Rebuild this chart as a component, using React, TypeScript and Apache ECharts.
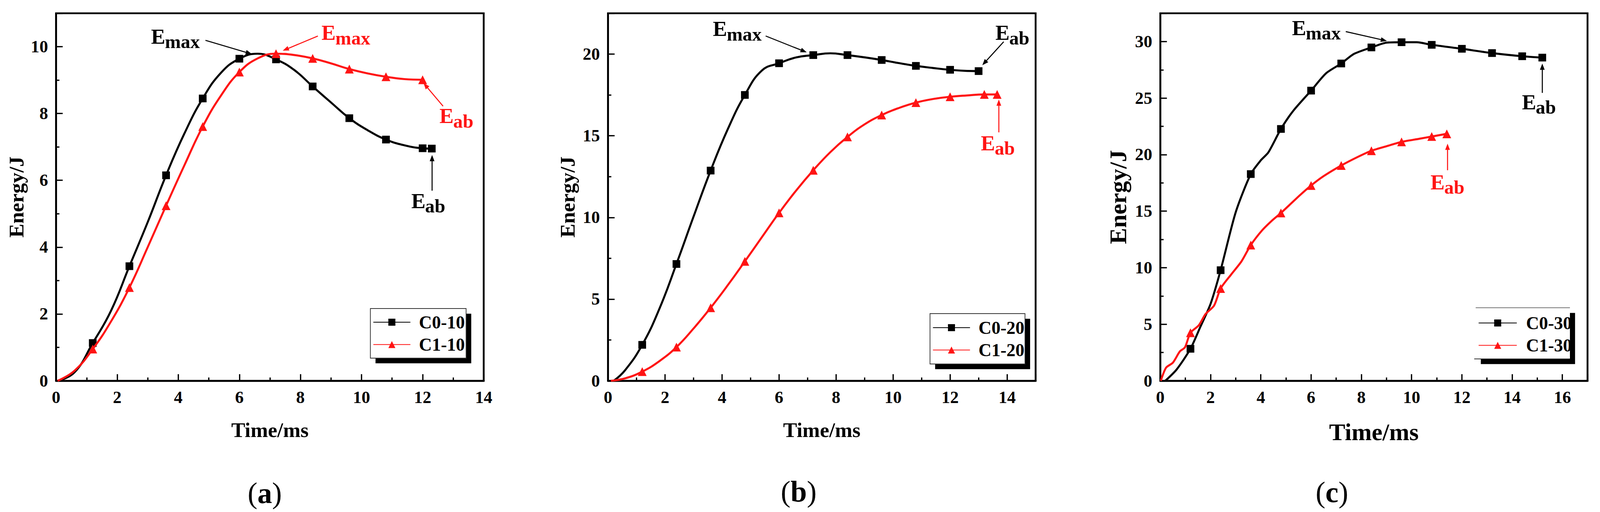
import React, { useEffect, useRef } from "react";
import * as echarts from "echarts";

const FONT = '"Liberation Serif", "Times New Roman", serif';
const BLACK = "#000000";
const RED = "#ff1414";

// ---------- Panel (a) ----------
const C0_10_T = [0.05, 0.6, 1.2, 1.8, 2.4, 3.0, 3.6, 4.2, 4.8, 5.4, 6.0, 6.6, 7.2, 7.8, 8.4, 9.0, 9.6, 10.2, 10.8, 11.4, 12.0, 12.3];
const C0_10_E = [0, 0.25, 1.13, 2.1, 3.43, 4.75, 6.15, 7.4, 8.45, 9.22, 9.64, 9.79, 9.62, 9.3, 8.81, 8.33, 7.86, 7.5, 7.22, 7.05, 6.96, 6.95];
const C1_10_T = [0.05, 0.6, 1.2, 1.8, 2.4, 3.0, 3.6, 4.2, 4.8, 5.4, 6.0, 6.6, 7.2, 7.8, 8.4, 9.0, 9.6, 10.2, 10.8, 11.4, 12.0];
const C1_10_E = [0, 0.3, 0.95, 1.78, 2.79, 4.0, 5.24, 6.45, 7.61, 8.54, 9.24, 9.65, 9.79, 9.75, 9.65, 9.5, 9.33, 9.2, 9.1, 9.03, 9.01];

// ---------- Panel (b) ----------
const C0_20_T = [0.2, 0.6, 1.2, 1.8, 2.4, 3.0, 3.6, 4.2, 4.8, 5.4, 6.0, 6.6, 7.2, 7.8, 8.4, 9.0, 9.6, 10.2, 10.8, 11.4, 12.0, 12.6, 13.0];
const C0_20_E = [0, 0.65, 2.2, 4.4, 7.15, 10.05, 12.87, 15.4, 17.5, 19.0, 19.44, 19.8, 19.94, 20.05, 19.94, 19.8, 19.64, 19.45, 19.28, 19.15, 19.04, 18.97, 18.96];
const C1_20_T = [0.1, 0.6, 1.2, 1.8, 2.4, 3.0, 3.6, 4.2, 4.8, 5.4, 6.0, 6.6, 7.2, 7.8, 8.4, 9.0, 9.6, 10.2, 10.8, 11.4, 12.0, 12.6, 13.2, 13.65];
const C1_20_E = [0, 0.15, 0.56, 1.2, 2.06, 3.2, 4.47, 5.85, 7.31, 8.8, 10.28, 11.65, 12.89, 14.0, 14.93, 15.7, 16.27, 16.7, 17.03, 17.25, 17.39, 17.47, 17.53, 17.53];

// ---------- Panel (c) ----------
const C0_30_T = [0.2, 0.65, 1.2, 1.6, 2.0, 2.4, 3.0, 3.6, 4.0, 4.3, 4.8, 5.3, 6.0, 6.6, 7.2, 7.7, 8.4, 9.0, 9.6, 10.2, 10.8, 12.0, 13.2, 14.4, 15.2];
const C0_30_E = [0, 1.0, 2.83, 4.8, 6.8, 9.78, 14.9, 18.28, 19.5, 20.2, 22.27, 23.9, 25.66, 27.2, 28.06, 28.9, 29.48, 29.9, 29.94, 29.94, 29.71, 29.36, 28.98, 28.7, 28.58];
const C1_30_T = [0.02, 0.23, 0.5, 0.78, 0.98, 1.2, 1.53, 1.8, 2.14, 2.4, 2.82, 3.23, 3.6, 4.05, 4.46, 4.8, 5.55, 6.0, 6.5, 7.2, 7.86, 8.4, 9.09, 9.6, 10.3, 10.8, 11.4];
const C1_30_E = [0, 1.16, 1.6, 2.6, 2.95, 4.25, 4.9, 5.9, 6.65, 8.16, 9.4, 10.56, 12.0, 13.3, 14.2, 14.84, 16.4, 17.27, 18.1, 19.04, 19.8, 20.34, 20.8, 21.13, 21.4, 21.6, 21.84];

// Marker every 1.2 ms (Origin "skip points") plus the final point
const MARK_STEP = 1.2;

// Axis ranges / tick labels
const X_MAX = [14, 15, 17];
const Y_MAX = [11, 22.5, 32.5];
const X_INTERVAL = [2, 2, 2];
const Y_INTERVAL = [2, 5, 5];
const CAPTIONS = ["a", "b", "c"];
const SERIES_NAMES = [
  ["C0-10", "C1-10"],
  ["C0-20", "C1-20"],
  ["C0-30", "C1-30"],
];
const SERIES_T = [
  [C0_10_T, C1_10_T],
  [C0_20_T, C1_20_T],
  [C0_30_T, C1_30_T],
];
const SERIES_E = [
  [C0_10_E, C1_10_E],
  [C0_20_E, C1_20_E],
  [C0_30_E, C1_30_E],
];

// Annotations in data coordinates: [panel, color, main, sub, anchor (E left, baseline), arrowFrom, arrowTo]
const ANNOTATIONS: [number, string, string, string, number[], number[], number[]][] = [
  [0, BLACK, "E", "max", [3.11, 10.09], [4.89, 10.19], [6.41, 9.78]],
  [0, RED, "E", "max", [8.69, 10.2], [8.57, 10.32], [7.42, 9.88]],
  [0, BLACK, "E", "ab", [11.63, 5.17], [12.31, 5.69], [12.31, 6.76]],
  [0, RED, "E", "ab", [12.55, 7.71], [12.67, 8.22], [12.03, 8.91]],
  [1, BLACK, "E", "max", [3.68, 21.11], [5.53, 21.11], [6.97, 20.11]],
  [1, BLACK, "E", "ab", [13.59, 20.87], [13.88, 20.76], [13.13, 19.32]],
  [1, RED, "E", "ab", [13.08, 14.11], [13.71, 15.21], [13.71, 17.22]],
  [2, BLACK, "E", "max", [5.24, 30.57], [7.38, 30.88], [9.02, 30.05]],
  [2, BLACK, "E", "ab", [14.39, 24.01], [15.2, 25.46], [15.2, 28.05]],
  [2, RED, "E", "ab", [10.75, 16.93], [11.43, 18.62], [11.43, 20.97]],
];

// Layout in reference pixels (scaled to the real viewport at run time)
const REF_W = 4363;
const REF_H = 1311;
const GRID_LEFT = [153, 1658, 3164];
const GRID_WIDTH = [1166, 1166, 1165];
const GRID_TOP = 34;
const GRID_HEIGHT = 941;
const NAME_SIZE = [57, 57, 66];
const X_NAME_GAP = [105, 105, 107];
const Y_NAME_GAP = [80, 82, 82];
const LEGEND_BOX = [
  [1010, 790, 261, 127],
  [2536, 803, 259, 129],
  [4024, 788, 257, 131],
];
const LEGEND_TOP = [802, 816, 804];
const CAPTION_POS = [
  [722, 1262],
  [2178, 1258],
  [3632, 1260],
];

function buildData(ts: number[], es: number[]) {
  return ts.map((t, i) => {
    const k = t / MARK_STEP;
    const isMark = (t > 0.1 && Math.abs(k - Math.round(k)) < 1e-6) || i === ts.length - 1;
    return isMark ? { value: [t, es[i]] } : { value: [t, es[i]], symbol: "none" };
  });
}

export default function App() {
  const ref = useRef<HTMLDivElement>(null);
  useEffect(() => {
    document.body.style.margin = "0";
    document.body.style.padding = "0";
    document.body.style.overflow = "hidden";
    document.documentElement.style.overflow = "hidden";
    const el = ref.current;
    if (!el) return;
    const W = window.innerWidth || REF_W;
    const H = window.innerHeight || REF_H;
    const sx = W / REF_W;
    const sy = H / REF_H;
    const k = Math.min(sx, sy);
    el.style.width = W + "px";
    el.style.height = H + "px";
    const X = (v: number) => v * sx;
    const Y = (v: number) => v * sy;
    const S = (v: number) => v * k;

    const chart = echarts.init(el, null, { renderer: "svg", width: W, height: H });

    const tickLabel = {
      fontFamily: FONT,
      fontWeight: "bold",
      fontSize: S(47),
      color: BLACK,
    };
    const axisCommon = {
      axisLine: { show: true, lineStyle: { color: BLACK, width: S(5) } },
      axisTick: { show: true, inside: true, length: S(18), lineStyle: { color: BLACK, width: S(3.5) } },
      minorTick: { show: true, splitNumber: 2, length: S(9), lineStyle: { color: BLACK, width: S(3.5) } },
      splitLine: { show: false },
      minorSplitLine: { show: false },
    };
    const grid = [0, 1, 2].map((i) => ({
      left: X(GRID_LEFT[i]),
      top: Y(GRID_TOP),
      width: X(GRID_WIDTH[i]),
      height: Y(GRID_HEIGHT),
      show: true,
      borderColor: BLACK,
      borderWidth: S(5),
      backgroundColor: "transparent",
    }));
    const xAxis = [0, 1, 2].map((i) => ({
      type: "value",
      gridIndex: i,
      min: 0,
      max: X_MAX[i],
      interval: X_INTERVAL[i],
      ...axisCommon,
      axisLabel: { ...tickLabel, margin: S(22), showMaxLabel: X_MAX[i] % X_INTERVAL[i] === 0 },
      name: "Time/ms",
      nameLocation: "middle",
      nameGap: S(X_NAME_GAP[i]),
      nameTextStyle: { fontFamily: FONT, fontWeight: "bold", fontSize: S(NAME_SIZE[i]), color: BLACK },
    }));
    const yAxis = [0, 1, 2].map((i) => ({
      type: "value",
      gridIndex: i,
      min: 0,
      max: Y_MAX[i],
      interval: Y_INTERVAL[i],
      ...axisCommon,
      axisLabel: { ...tickLabel, margin: S(22), showMaxLabel: Y_MAX[i] % Y_INTERVAL[i] === 0 },
      name: "Energy/J",
      nameLocation: "middle",
      nameGap: S(Y_NAME_GAP[i]),
      nameTextStyle: { fontFamily: FONT, fontWeight: "bold", fontSize: S(NAME_SIZE[i]), color: BLACK },
    }));
    const series: any[] = [];
    [0, 1, 2].forEach((i) => {
      [0, 1].forEach((j) => {
        const color = j === 0 ? BLACK : RED;
        series.push({
          type: "line",
          name: SERIES_NAMES[i][j],
          xAxisIndex: i,
          yAxisIndex: i,
          data: buildData(SERIES_T[i][j], SERIES_E[i][j]),
          smooth: i === 2 ? 0.25 : 0.45,
          symbol: j === 0 ? "rect" : "triangle",
          symbolSize: j === 0 ? S(21) : S(24),
          showAllSymbol: true,
          lineStyle: { color, width: S(5.5) },
          itemStyle: { color },
          emphasis: { disabled: true },
          z: 3 + j,
        });
      });
    });
    const legend = [0, 1, 2].map((i) => ({
      data: SERIES_NAMES[i],
      orient: "vertical",
      left: X(LEGEND_BOX[i][0] + 7),
      top: Y(LEGEND_TOP[i]),
      itemWidth: S(i === 2 ? 104 : 101),
      itemHeight: S(24),
      itemGap: S(12),
      padding: 0,
      selectedMode: false,
      z: 30,
      backgroundColor: "transparent",
      formatter: "{t|{name}}",
      textStyle: {
        fontFamily: FONT,
        fontWeight: "bold",
        fontSize: S(49),
        lineHeight: S(48),
        color: BLACK,
        rich: {
          t: {
            fontFamily: FONT,
            fontWeight: "bold",
            fontSize: S(49),
            lineHeight: S(48),
            color: BLACK,
            padding: [0, 0, 0, S(i === 2 ? 20 : 18)],
          },
        },
      },
    }));

    chart.setOption({
      animation: false,
      backgroundColor: "#ffffff",
      grid,
      xAxis,
      yAxis,
      series,
      legend,
    } as any);

    const arrow = (p1: number[], p2: number[], color: string) => {
      const dx = p2[0] - p1[0];
      const dy = p2[1] - p1[1];
      const len = Math.hypot(dx, dy) || 1;
      const ux = dx / len;
      const uy = dy / len;
      const hl = S(17);
      const hw = S(6.5);
      const bx = p2[0] - ux * hl;
      const by = p2[1] - uy * hl;
      return [
        {
          type: "line",
          z: 60,
          shape: { x1: p1[0], y1: p1[1], x2: bx + ux * 2, y2: by + uy * 2 },
          style: { stroke: color, lineWidth: S(2.8) },
        },
        {
          type: "polygon",
          z: 60,
          shape: {
            points: [
              [p2[0], p2[1]],
              [bx - uy * hw, by + ux * hw],
              [bx + uy * hw, by - ux * hw],
            ],
          },
          style: { fill: color },
        },
      ];
    };

    const subLabel = (p: number[], main: string, sub: string, color: string) => {
      const mainSize = S(58);
      const subSize = S(52);
      return [
        {
          type: "text",
          z: 60,
          x: p[0],
          y: p[1] - 0.34 * mainSize,
          style: {
            text: main,
            fontFamily: FONT,
            fontWeight: "bold",
            fontSize: mainSize,
            fill: color,
            align: "left",
            verticalAlign: "middle",
            textAlign: "left",
            textVerticalAlign: "middle",
          },
        },
        {
          type: "text",
          z: 60,
          x: p[0] + 0.667 * mainSize - S(1),
          y: p[1] + S(13) - 0.34 * subSize,
          style: {
            text: sub,
            fontFamily: FONT,
            fontWeight: "bold",
            fontSize: subSize,
            fill: color,
            align: "left",
            verticalAlign: "middle",
            textAlign: "left",
            textVerticalAlign: "middle",
          },
        },
      ];
    };

    const graphics: any[] = [];
    [0, 1, 2].forEach((i) => {
      const [l0, t0, w0, h0] = LEGEND_BOX[i];
      const l = X(l0);
      const t = Y(t0);
      const w = X(w0);
      const h = Y(h0);
      const off = S(14);
      graphics.push({
        type: "rect",
        z: 20,
        shape: { x: l + off, y: t + off, width: w, height: h },
        style: { fill: BLACK },
      });
      graphics.push({
        type: "rect",
        z: 21,
        shape: { x: l, y: t, width: w, height: h },
        style: i === 2 ? { fill: "#ffffff" } : { fill: "#ffffff", stroke: "#333333", lineWidth: S(2) },
      });
      if (i === 2) {
        graphics.push({
          type: "line",
          z: 22,
          shape: { x1: l, y1: t, x2: l + w, y2: t },
          style: { stroke: "#777777", lineWidth: S(2) },
        });
        graphics.push({
          type: "line",
          z: 22,
          shape: { x1: l - S(4), y1: t + h, x2: l + w, y2: t + h },
          style: { stroke: "#333333", lineWidth: S(2) },
        });
      }
    });
    ANNOTATIONS.forEach(([panel, color, main, sub, anchor, from, to]) => {
      const a = chart.convertToPixel({ gridIndex: panel }, anchor) as number[];
      const f = chart.convertToPixel({ gridIndex: panel }, from) as number[];
      const t = chart.convertToPixel({ gridIndex: panel }, to) as number[];
      graphics.push(...subLabel(a, main, sub, color));
      graphics.push(...arrow(f, t, color));
    });
    [0, 1, 2].forEach((i) => {
      graphics.push({
        type: "text",
        z: 60,
        x: X(CAPTION_POS[i][0]),
        y: Y(CAPTION_POS[i][1]),
        style: {
          text: `{p|(}{l|${CAPTIONS[i]}}{p|)}`,
          align: "center",
          verticalAlign: "middle",
          textAlign: "center",
          textVerticalAlign: "middle",
          rich: {
            p: { fontFamily: FONT, fontSize: S(80), fontWeight: "normal", color: BLACK },
            l: { fontFamily: FONT, fontSize: S(80), fontWeight: "bold", color: BLACK },
          },
        },
      });
    });
    chart.setOption({ graphic: { elements: graphics } } as any);

    return () => {
      chart.dispose();
    };
  }, []);
  return <div ref={ref} style={{ width: "100vw", height: "100vh" }} />;
}
